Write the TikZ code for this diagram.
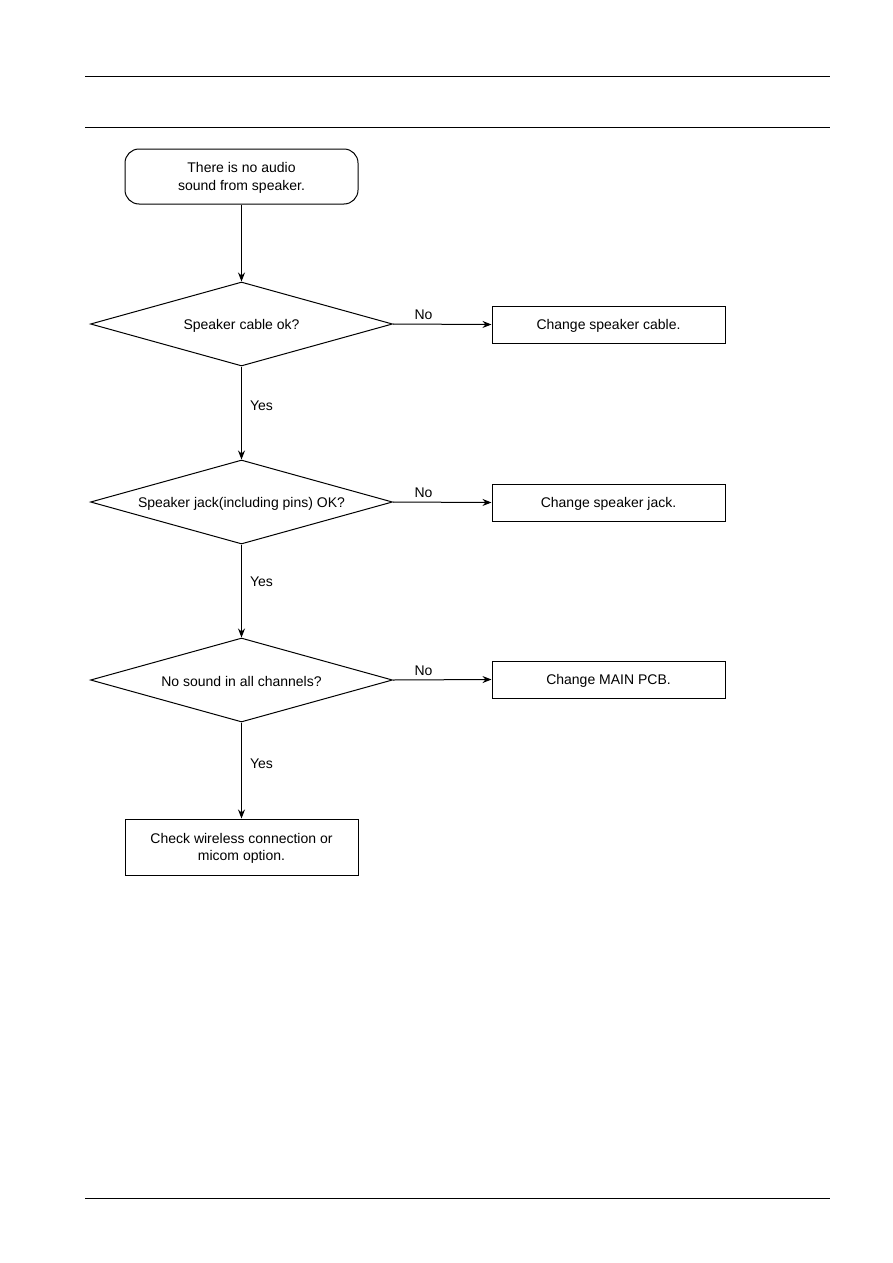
\documentclass[tikz,border=0pt]{standalone}
\usepackage{fontspec}
\setmainfont{Liberation Sans}
\usetikzlibrary{shapes.geometric,arrows.meta}
\begin{document}
\begin{tikzpicture}[x=1pt,y=-1pt,
  every node/.style={font=\fontsize{14}{17.5}\selectfont},
  startbox/.style={draw,rounded corners=14pt,line width=1pt,minimum width=233pt,minimum height=55pt,align=center,inner sep=0pt},
  actbox/.style={draw,line width=1pt,minimum width=233pt,minimum height=37pt,align=center,inner sep=0pt},
  decide/.style={draw,diamond,aspect=3.6,line width=1pt,minimum width=302pt,minimum height=84pt,inner sep=0pt,align=center},
  flow/.style={line width=1pt,-{Stealth[length=9pt,width=7pt]}},
  lbl/.style={inner sep=0pt},
  txt/.style={inner sep=0pt,align=center}
]
\useasboundingbox (0,0) rectangle (893,1263);
\coordinate (t1a) at (85,76); \coordinate (t1b) at (830,76);
\coordinate (t2a) at (85,127); \coordinate (t2b) at (830,127);
\coordinate (b1a) at (85,1198); \coordinate (b1b) at (830,1198);
\draw[line width=1pt] (t1a) -- (t1b);
\draw[line width=1pt] (t2a) -- (t2b);
\draw[line width=1pt] (b1a) -- (b1b);

\node[startbox] (start) at (241.5,176.5) {};
\node[txt] (startt) at (241.5,178) {There is no audio\\sound from speaker.};
\node[decide] (d1) at (241.5,324) {};
\node[txt] (d1t) at (241.5,325.5) {Speaker cable ok?};
\node[decide] (d2) at (241.5,502) {};
\node[txt] (d2t) at (241.5,503.5) {Speaker jack(including pins) OK?};
\node[decide] (d3) at (241.5,680) {};
\node[txt] (d3t) at (241.5,681.5) {No sound in all channels?};
\node[actbox] (a1) at (608.5,324.5) {};
\node[txt] (a1t) at (608.5,326) {Change speaker cable.};
\node[actbox] (a2) at (608.5,502.5) {};
\node[txt] (a2t) at (608.5,504) {Change speaker jack.};
\node[actbox] (a3) at (608.5,679.5) {};
\node[txt] (a3t) at (608.5,681) {Change MAIN PCB.};
\node[actbox,minimum height=56pt] (fin) at (241.5,847) {};
\node[txt] (fint) at (241.5,848.5) {Check wireless connection or\\micom option.};

\draw[flow] (start) -- (d1.north);
\draw[flow] (d1.south) -- node[lbl,right=8pt,pos=0.42] {Yes} (d2.north);
\draw[flow] (d2.south) -- node[lbl,right=8pt,pos=0.4] {Yes} (d3.north);
\draw[flow] (d3.south) -- node[lbl,right=8pt,pos=0.43] {Yes} (fin.north);
\draw[flow] (d1.east) -- node[lbl,above=4pt,pos=0.31] {No} (a1.west);
\draw[flow] (d2.east) -- node[lbl,above=4pt,pos=0.31] {No} (a2.west);
\draw[flow] (d3.east) -- node[lbl,above=4pt,pos=0.31] {No} (a3.west);
\end{tikzpicture}
\end{document}
